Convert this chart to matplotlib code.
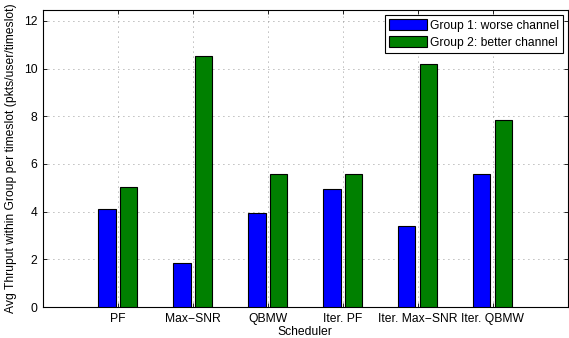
import numpy as np
import matplotlib.pyplot as plt

plt.rcParams['font.family'] = ['Liberation Sans', 'DejaVu Sans']
plt.rcParams['font.size'] = 8.7

schedulers = ['PF', 'Max\u2212SNR', 'QBMW', 'Iter. PF', 'Iter. Max\u2212SNR', 'Iter. QBMW']
group1 = [4.1, 1.85, 3.93, 4.93, 3.38, 5.57]   # worse channel
group2 = [5.05, 10.52, 5.6, 5.6, 10.2, 7.85]   # better channel

x = np.arange(1, len(schedulers) + 1)
w = 0.23
off = 0.145

fig = plt.figure(figsize=(5.69, 3.38), dpi=100)
ax = fig.add_axes([0.0756, 0.0917, 0.922, 0.878])

ax.bar(x - off, group1, w, color='#0000ff', edgecolor='black', linewidth=0.8,
       label='Group 1: worse channel', zorder=3)
ax.bar(x + off, group2, w, color='#008000', edgecolor='black', linewidth=0.8,
       label='Group 2: better channel', zorder=3)

ax.set_xlim(0, 7)
ax.set_ylim(0, 12.45)
ax.set_xticks(x)
ax.set_xticklabels(schedulers)
ax.set_yticks(np.arange(0, 13, 2))
ax.tick_params(direction='in', length=3, width=0.6, top=True, right=True, pad=4)
ax.grid(True, linestyle=(0, (1, 5)), color='#777777', linewidth=0.6, zorder=0)
for s in ax.spines.values():
    s.set_linewidth(0.8)

ax.set_xlabel('Scheduler', labelpad=1)
ax.set_ylabel('Avg Thruput within Group per timeslot (pkts/user/timeslot)', labelpad=5)

leg = ax.legend(loc='upper right', fancybox=False, framealpha=1, edgecolor='black',
                borderaxespad=0.4, handlelength=3.15, handleheight=1.0,
                handletextpad=0.2, borderpad=0.35, labelspacing=0.35)
leg.get_frame().set_linewidth(0.8)

fig.savefig('out.png', dpi=100)
